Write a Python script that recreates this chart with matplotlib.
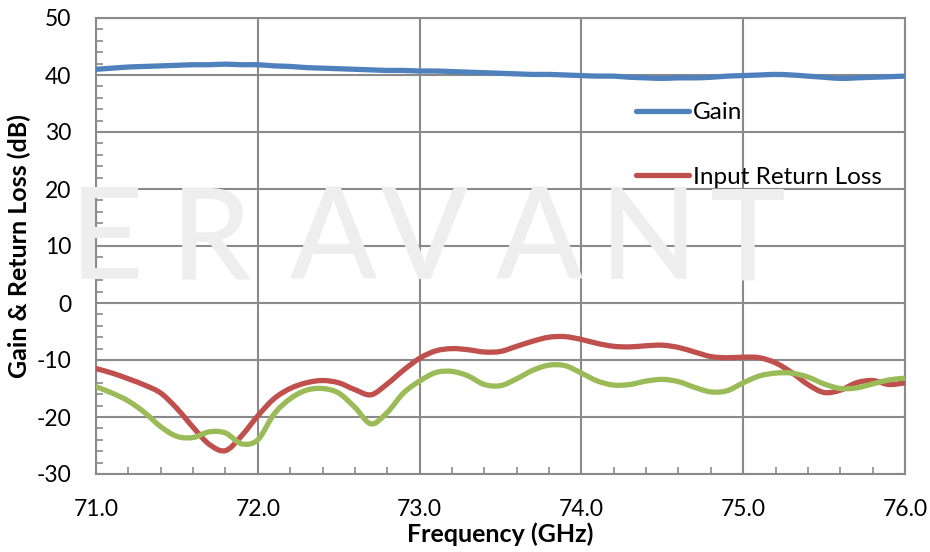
import numpy as np
import matplotlib.pyplot as plt
from matplotlib.ticker import MultipleLocator
from matplotlib.path import Path
from matplotlib.patches import PathPatch
from matplotlib.lines import Line2D

plt.rcParams['font.family'] = ['Lato', 'DejaVu Sans']
plt.rcParams['axes.unicode_minus'] = False

freq = np.round(np.arange(71.0, 76.01, 0.1), 1)

gain = [41.0, 41.2, 41.4, 41.5, 41.6, 41.7, 41.8, 41.8, 41.9, 41.8,
        41.8, 41.6, 41.5, 41.3, 41.2, 41.1, 41.0, 40.9, 40.8, 40.8,
        40.7, 40.7, 40.6, 40.5, 40.4, 40.3, 40.2, 40.1, 40.1, 40.0,
        39.9, 39.8, 39.8, 39.6, 39.5, 39.4, 39.5, 39.5, 39.6, 39.8,
        39.9, 40.0, 40.1, 40.0, 39.8, 39.6, 39.4, 39.5, 39.6, 39.7, 39.8]

input_rl = [-11.5, -12.3, -13.3, -14.4, -15.8, -18.5, -21.8, -24.8, -25.9, -23.3,
            -19.8, -16.8, -15.0, -14.0, -13.6, -14.0, -15.2, -16.1, -14.2, -11.8,
            -9.7, -8.4, -8.0, -8.2, -8.6, -8.5, -7.6, -6.7, -6.0, -5.9,
            -6.4, -7.1, -7.6, -7.7, -7.5, -7.4, -7.8, -8.6, -9.4, -9.6,
            -9.5, -9.6, -10.5, -12.2, -14.3, -15.7, -15.3, -14.0, -13.6, -14.3, -14.0]

output_rl = [-14.7, -15.8, -17.2, -19.2, -21.7, -23.4, -23.6, -22.6, -22.8, -24.7,
             -24.0, -19.5, -16.8, -15.3, -15.0, -15.8, -18.3, -21.2, -19.2, -15.8,
             -13.7, -12.2, -12.0, -12.8, -14.3, -14.5, -13.3, -11.8, -10.9, -11.0,
             -12.3, -13.7, -14.4, -14.3, -13.7, -13.4, -13.8, -14.8, -15.6, -15.4,
             -14.0, -12.8, -12.3, -12.3, -13.0, -14.2, -15.0, -14.9, -14.2, -13.5, -13.2]

watermark = list("ERAVANT")
watermark_x = [107, 211, 333, 424, 539, 649, 747]  # pixel centres


def smooth_path(x, y):
    # Excel-like smoothed line: cubic Bezier through every point
    p = np.column_stack([x, y]).astype(float)
    ext = np.vstack([p[0], p, p[-1]])
    verts = [p[0]]
    codes = [Path.MOVETO]
    for i in range(len(p) - 1):
        p0, p1, p2, p3 = ext[i], ext[i + 1], ext[i + 2], ext[i + 3]
        verts += [p1 + (p2 - p0) / 6, p2 - (p3 - p1) / 6, p2]
        codes += [Path.CURVE4] * 3
    return Path(verts, codes)


fig = plt.figure(figsize=(9.3, 5.52), dpi=100)
ax = fig.add_axes([96/930, 1-474/552, (905-96)/930, (474-18)/552])

for ch, px in zip(watermark, watermark_x):
    fig.text(px/930, 1-243/552, ch, fontsize=92, color='#eeeeee',
             ha='center', va='center', fontweight='medium', zorder=0)
ax.set_facecolor('none')

series = [(gain, '#4f81bd', 'Gain'),
          (input_rl, '#c0504d', 'Input Return Loss'),
          (output_rl, '#9bbb59', None)]
handles = []
for vals, col, lab in series:
    ax.add_patch(PathPatch(smooth_path(freq, vals), fill=False, edgecolor=col,
                           lw=3.8, capstyle='round', joinstyle='round', zorder=3))
    if lab:
        handles.append(Line2D([], [], color=col, lw=3.8, solid_capstyle='round', label=lab))

ax.set_xlim(71, 76)
ax.set_ylim(-30, 50)
ax.xaxis.set_minor_locator(MultipleLocator(0.2))
ax.yaxis.set_major_locator(MultipleLocator(10))
ax.yaxis.set_minor_locator(MultipleLocator(2))
ax.set_xticks(np.arange(71, 76.01, 1))
ax.set_xticklabels([f'{v:.1f}' for v in np.arange(71, 76.01, 1)])

ax.grid(True, which='major', color='#8a8a8a', lw=1.5, zorder=1)
for s in ax.spines.values():
    s.set_color('#8a8a8a')
    s.set_linewidth(1.5)
ax.tick_params(which='major', length=0, pad=18, labelsize=16.5)
ax.tick_params(which='minor', direction='in', length=5, width=1.2, color='#8a8a8a')
ax.tick_params(axis='x', which='minor', top=False)
ax.tick_params(axis='y', which='minor', right=False)

ax.set_xlabel('Frequency (GHz)', fontsize=18, fontweight='bold', labelpad=2)
ax.set_ylabel('Gain & Return Loss (dB)', fontsize=18, fontweight='bold', labelpad=4)

ax.legend(handles=handles, loc='upper left',
          bbox_to_anchor=((636-96)/809, 1-(110-18-8)/456),
          frameon=False, fontsize=17.5, handlelength=2.2, handletextpad=0.15,
          labelspacing=1.8, borderpad=0, borderaxespad=0)

fig.savefig('out.png', dpi=100)
